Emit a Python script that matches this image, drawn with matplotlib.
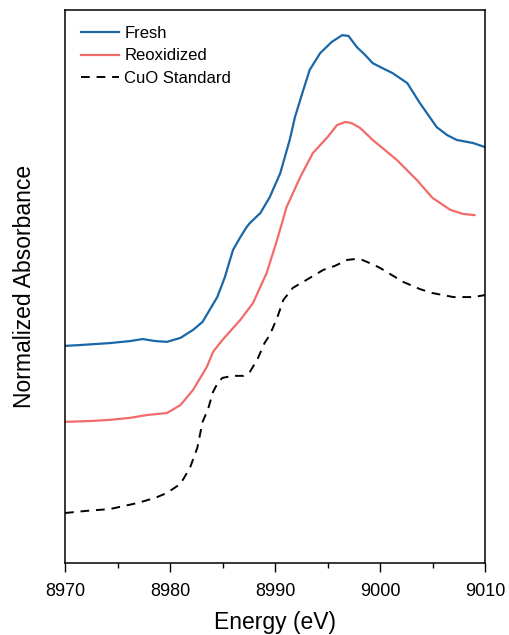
import matplotlib
matplotlib.use('Agg')
import matplotlib.pyplot as plt
from matplotlib.ticker import MultipleLocator

plt.rcParams['font.family'] = ['Liberation Sans', 'DejaVu Sans']

# Cu K-edge XANES, offset for clarity
fresh_e = [8970.0, 8971.4, 8974.3, 8976.2, 8977.4, 8978.6, 8979.7, 8981.0, 8982.2, 8983.1,
           8984.5, 8985.2, 8986.0, 8986.7, 8987.3, 8987.6, 8988.6, 8989.5, 8990.5, 8991.4,
           8991.9, 8992.6, 8993.3, 8994.3, 8995.4, 8996.4, 8997.0, 8997.8, 8998.6, 8999.3,
           9000.2, 9001.2, 9002.6, 9003.8, 9004.6, 9005.4, 9006.4, 9007.3, 9008.9, 9010.0]
fresh_a = [0.543, 0.545, 0.550, 0.555, 0.560, 0.555, 0.553, 0.563, 0.583, 0.603,
           0.665, 0.713, 0.783, 0.815, 0.840, 0.850, 0.875, 0.915, 0.975, 1.058,
           1.115, 1.175, 1.233, 1.275, 1.303, 1.320, 1.318, 1.290, 1.270, 1.250,
           1.238, 1.225, 1.200, 1.150, 1.120, 1.090, 1.070, 1.058, 1.050, 1.040]

reox_e = [8970.0, 8972.4, 8974.3, 8976.2, 8977.8, 8979.7, 8981.0, 8982.2, 8983.5, 8984.1,
          8985.0, 8986.7, 8987.9, 8989.2, 8990.2, 8991.1, 8992.4, 8993.6, 8995.0, 8995.9,
          8996.7, 8997.3, 8998.1, 8999.3, 9001.6, 9003.5, 9005.0, 9006.7, 9007.9, 9009.0]
reox_a = [0.353, 0.355, 0.358, 0.363, 0.370, 0.375, 0.395, 0.433, 0.490, 0.528,
          0.558, 0.608, 0.650, 0.725, 0.808, 0.890, 0.965, 1.025, 1.065, 1.095,
          1.103, 1.100, 1.088, 1.058, 1.008, 0.958, 0.913, 0.883, 0.873, 0.870]

cuo_e = [8970.0, 8971.9, 8974.3, 8976.9, 8978.6, 8979.7, 8981.0, 8981.9, 8982.6, 8983.1,
         8983.6, 8984.1, 8984.6, 8985.0, 8986.0, 8987.0, 8987.6, 8988.3, 8989.0, 8989.5,
         8990.2, 8990.8, 8991.7, 8993.0, 8994.6, 8995.7, 8996.9, 8997.6, 8998.3, 8999.2,
         9000.0, 9002.2, 9003.8, 9005.0, 9007.0, 9008.9, 9010.0]
cuo_a = [0.125, 0.130, 0.135, 0.150, 0.163, 0.175, 0.198, 0.238, 0.288, 0.353,
         0.383, 0.428, 0.453, 0.463, 0.468, 0.468, 0.478, 0.508, 0.550, 0.570,
         0.613, 0.658, 0.688, 0.708, 0.733, 0.743, 0.758, 0.760, 0.758, 0.748,
         0.738, 0.703, 0.685, 0.675, 0.665, 0.665, 0.670]

fig = plt.figure(figsize=(5.1, 6.35), dpi=100)
ax = fig.add_axes([0.1275, 0.1134, 0.8235, 0.8706])

ax.plot(fresh_e, fresh_a, color='#1a67a8', lw=1.6, label='Fresh')
ax.plot(reox_e, reox_a, color='#f26b6b', lw=1.6, label='Reoxidized')
ax.plot(cuo_e, cuo_a, color='black', lw=1.4, dashes=(4.5, 3.5), label='CuO Standard')

ax.set_xlim(8970, 9010)
ax.set_ylim(0, 1.3825)
ax.xaxis.set_major_locator(MultipleLocator(10))
ax.xaxis.set_minor_locator(MultipleLocator(5))
ax.tick_params(axis='x', which='major', direction='out', length=6.5, width=1, labelsize=13, pad=8)
ax.tick_params(axis='x', which='minor', direction='out', length=3.5, width=1)
ax.set_yticks([])
for s in ax.spines.values():
    s.set_linewidth(1.1)

ax.set_xlabel('Energy (eV)', fontsize=16.5, labelpad=8)
ax.set_ylabel('Normalized Absorbance', fontsize=16.5, labelpad=21)

ax.legend(loc='upper left', frameon=False, fontsize=12, handlelength=2.3,
          labelspacing=0.45, handletextpad=0.3, borderaxespad=0.55)

fig.savefig('out.png', dpi=100)
